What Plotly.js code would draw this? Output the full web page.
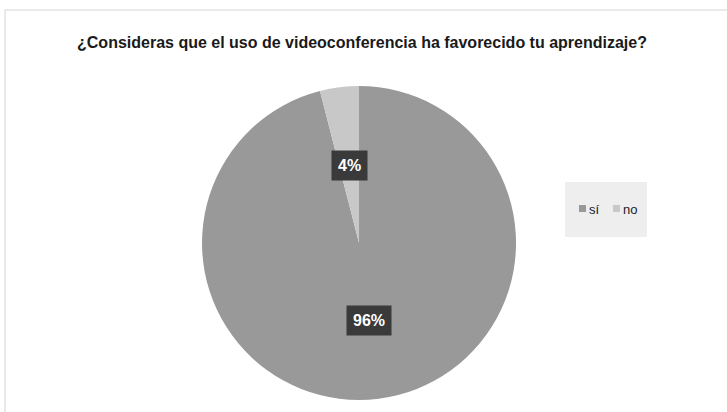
<!DOCTYPE html>
<html><head><meta charset="utf-8">
<script src="https://cdn.plot.ly/plotly-3.0.1.min.js"></script>
<style>body{margin:0;background:#fff}#c{width:727px;height:412px}</style>
</head><body><div id="c"></div>
<script>
const categories = ['sí', 'no'];
const values = [96, 4];
const colors = ['#999999', '#c8c8c8'];
const titleText = '¿Consideras que el uso de videoconferencia ha favorecido tu aprendizaje?';

const W = 727, H = 412;
const FONT = 'Liberation Sans, Arial, sans-serif';
const dom = {x: [0.2779, 0.7098], y: [0.0291, 0.7913]};
const cx = (dom.x[0] + dom.x[1]) / 2, cy = (dom.y[0] + dom.y[1]) / 2;
const R = Math.min((dom.x[1]-dom.x[0])*W, (dom.y[1]-dom.y[0])*H) / 2;
const total = values.reduce((a, b) => a + b, 0);
const labelDist = 0.5;
let cum = 0;
const annotations = values.map((v, i) => {
  const mid = (cum + v / 2) / total * 2 * Math.PI; cum += v;
  const d = labelDist * R;
  return {
    xref: 'paper', yref: 'paper', xanchor: 'center', yanchor: 'middle',
    x: cx + d * Math.sin(mid) / W, y: cy + d * Math.cos(mid) / H,
    text: '<b>' + Math.round(v / total * 100) + '%</b>', showarrow: false,
    font: {family: FONT, size: 16, color: '#ffffff'},
    bgcolor: '#3a3a3a', borderpad: 6
  };
});
const shapes = [
  {type: 'rect', xref: 'paper', yref: 'paper', x0: 5/W, x1: 1.05, y0: -0.05, y1: 1 - 10/H,
    line: {color: '#d4d4d4', width: 1}, fillcolor: 'rgba(0,0,0,0)', layer: 'below'},
  {type: 'rect', xref: 'paper', yref: 'paper', x0: 565/W, x1: 647/W, y0: 1 - 237/H, y1: 1 - 182/H,
    line: {width: 0}, fillcolor: '#eeeeee', layer: 'below'}
];
// custom compact legend built from categories/colors
const legX = [579, 613];
categories.forEach((c, i) => {
  shapes.push({type: 'rect', xref: 'paper', yref: 'paper',
    x0: legX[i] / W, x1: (legX[i] + 7) / W, y0: 1 - 212 / H, y1: 1 - 205 / H,
    line: {width: 0}, fillcolor: colors[i]});
  annotations.push({
    xref: 'paper', yref: 'paper', x: (legX[i] + 8) / W, y: 1 - 209 / H,
    xanchor: 'left', yanchor: 'middle', showarrow: false,
    text: c, font: {family: FONT, size: 13, color: '#222222'}
  });
});

const trace = {
  type: 'pie', labels: categories, values: values, sort: false,
  direction: 'clockwise', rotation: 0, domain: dom,
  marker: {colors: colors, line: {width: 0}},
  textinfo: 'none', hoverinfo: 'none', showlegend: false
};
const layout = {
  width: W, height: H, margin: {l: 0, r: 0, t: 0, b: 0},
  paper_bgcolor: '#ffffff',
  title: {text: '<b>' + titleText + '</b>', x: 362 / W, xanchor: 'center', y: 1 - 42/H, yanchor: 'middle',
    font: {family: FONT, size: 16, color: '#1a1a1a'}},
  showlegend: false,
  annotations: annotations,
  shapes: shapes
};
Plotly.newPlot('c', [trace], layout, {staticPlot: true, displayModeBar: false});
</script></body></html>
